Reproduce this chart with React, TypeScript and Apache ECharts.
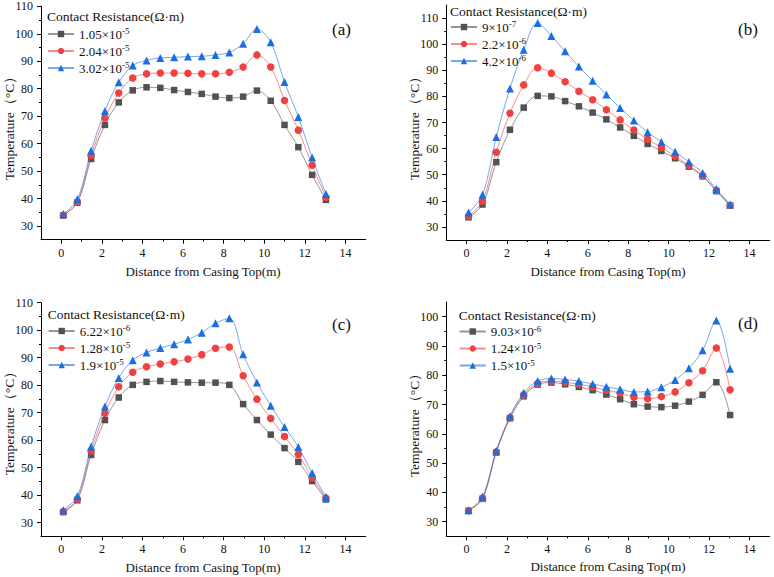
import React, { useEffect, useRef } from "react";
import * as echarts from "echarts";

// Distance from casing top (m)
const xPos = [0.1, 0.79, 1.47, 2.15, 2.83, 3.52, 4.2, 4.88, 5.56, 6.24, 6.92, 7.6, 8.28, 8.96, 9.64, 10.32, 11.0, 11.68, 12.36, 13.04];

// (a)
const aNames = ["1.05×10^-5", "2.04×10^-5", "3.02×10^-5"];
const aGray = [33.8, 38.5, 54.4, 66.8, 75.0, 79.4, 80.5, 80.3, 79.5, 78.8, 78.1, 77.1, 76.6, 77.1, 79.3, 75.6, 66.8, 58.7, 48.6, 39.5];
const aRed = [33.9, 38.7, 55.7, 69.3, 78.4, 83.9, 85.4, 85.7, 85.7, 85.6, 85.4, 85.4, 86.0, 87.9, 92.3, 87.9, 75.7, 64.9, 52.1, 40.4];
const aBlue = [34.4, 39.7, 57.4, 71.9, 82.3, 88.4, 90.3, 91.2, 91.4, 91.7, 91.8, 92.3, 93.2, 96.4, 101.7, 96.9, 82.4, 69.7, 54.9, 41.6];

// (b)
const bNames = ["9×10^-7", "2.2×10^-6", "4.2×10^-6"];
const bGray = [33.7, 38.6, 54.8, 67.2, 75.7, 80.2, 80.0, 78.2, 76.2, 73.8, 71.2, 68.1, 64.9, 61.8, 59.1, 56.3, 53.1, 49.4, 43.7, 38.2];
const bRed = [34.2, 39.9, 58.6, 73.5, 84.4, 91.0, 88.9, 85.6, 82.0, 78.7, 74.9, 71.0, 67.1, 63.6, 60.4, 57.1, 53.6, 49.6, 44.0, 38.3];
const bBlue = [35.5, 42.3, 64.4, 83.0, 97.9, 108.1, 103.1, 97.3, 91.4, 86.0, 80.7, 75.6, 70.8, 66.3, 62.5, 58.8, 54.9, 50.7, 44.5, 38.6];

// (c)
const cNames = ["6.22×10^-6", "1.28×10^-5", "1.9×10^-5"];
const cGray = [33.8, 38.1, 54.6, 67.3, 75.5, 80.1, 81.2, 81.5, 81.2, 81.0, 80.9, 80.9, 80.1, 73.1, 67.3, 62.0, 57.1, 52.1, 45.1, 38.4];
const cRed = [34.0, 38.6, 56.0, 69.8, 79.4, 84.7, 86.7, 87.7, 88.5, 89.5, 91.1, 93.4, 93.9, 83.4, 74.9, 67.9, 61.3, 54.8, 46.3, 38.9];
const cBlue = [34.5, 39.6, 57.7, 72.2, 82.6, 89.1, 91.9, 93.5, 94.9, 96.6, 99.1, 102.5, 104.3, 91.2, 81.0, 72.5, 64.8, 57.5, 48.0, 39.3];

// (d)
const dNames = ["9.03×10^-6", "1.24×10^-5", "1.5×10^-5"];
const dGray = [33.7, 37.8, 53.6, 65.3, 72.8, 76.8, 77.5, 76.9, 76.0, 74.9, 73.4, 71.8, 70.1, 69.3, 69.1, 69.6, 71.0, 73.3, 77.6, 66.4];
const dRed = [33.7, 38.0, 53.8, 65.5, 73.3, 77.2, 78.0, 77.6, 76.9, 76.0, 74.9, 73.9, 72.5, 72.0, 72.7, 74.3, 77.4, 81.5, 89.3, 75.0];
const dBlue = [33.9, 38.5, 54.2, 66.0, 74.0, 78.0, 78.9, 78.5, 78.0, 77.0, 76.1, 75.2, 74.3, 74.4, 75.9, 78.4, 82.4, 88.5, 98.7, 82.2];

// Tick labels
const xTicks = [0, 2, 4, 6, 8, 10, 12, 14];
const xMinorTicks = [1, 3, 5, 7, 9, 11, 13];
const yTicks110 = [30, 40, 50, 60, 70, 80, 90, 100, 110];
const yMinor110 = [35, 45, 55, 65, 75, 85, 95, 105];
const yTicks100 = [30, 40, 50, 60, 70, 80, 90, 100];
const yMinor100 = [35, 45, 55, 65, 75, 85, 95];

const panelLabels = ["(a)", "(b)", "(c)", "(d)"];
const legendTitle = "Contact Resistance(Ω·m)";
const xTitle = "Distance from Casing Top(m)";
const yTitle = "Temperature（°C）";

const FONT = "Liberation Serif";
const MARK = ["#515151", "#F14040", "#1A6FDF"];
const SYMBOLS = ["rect", "circle", "triangle"];
const SYMSIZE = [6.5, 7.5, 8];

export default function App() {
  const ref = useRef<HTMLDivElement>(null);

  useEffect(() => {
    if (!ref.current) return;
    const chart = echarts.init(ref.current, undefined, { renderer: "svg" });

    const panels = [
      { names: aNames, series: [aGray, aRed, aBlue], yMin: 25, yMax: 110, yT: yTicks110, yM: yMinor110,
        grid: { left: 41, top: 6.3, width: 324.7, height: 233.4 },
        legend: { left: 47, top: 26.5 }, lt: { x: 47, y: 17 }, pl: { x: 341.5, y: 29 },
        yt: { x: 9, y: 125 }, xt: { x: 203, y: 271.7 } },
      { names: bNames, series: [bGray, bRed, bBlue], yMin: 25, yMax: 115, yT: yTicks110, yM: yMinor110,
        grid: { left: 446.3, top: 5, width: 323.4, height: 235 },
        legend: { left: 450, top: 19.5 }, lt: { x: 450, y: 12.3 }, pl: { x: 748, y: 29 },
        yt: { x: 414, y: 125 }, xt: { x: 608, y: 271.7 } },
      { names: cNames, series: [cGray, cRed, cBlue], yMin: 25, yMax: 110, yT: yTicks110, yM: yMinor110,
        grid: { left: 41, top: 302.7, width: 324.7, height: 233.6 },
        legend: { left: 47.7, top: 323.5 }, lt: { x: 47.7, y: 314.7 }, pl: { x: 341.5, y: 324.7 },
        yt: { x: 9, y: 420 }, xt: { x: 203, y: 567.3 } },
      { names: dNames, series: [dGray, dRed, dBlue], yMin: 25, yMax: 105, yT: yTicks100, yM: yMinor100,
        grid: { left: 446.3, top: 302, width: 323.4, height: 234.3 },
        legend: { left: 458.7, top: 324 }, lt: { x: 458.7, y: 316.3 }, pl: { x: 748, y: 323.7 },
        yt: { x: 414, y: 422 }, xt: { x: 608, y: 566.3 } },
    ];

    const grids: any[] = [];
    const xAxes: any[] = [];
    const yAxes: any[] = [];
    const series: any[] = [];
    const legends: any[] = [];
    const graphics: any[] = [];

    panels.forEach((p, i) => {
      grids.push({ ...p.grid, containLabel: false });
      xAxes.push({
        type: "value", gridIndex: i, min: -1, max: 15, position: "bottom",
        axisLine: { show: true, onZero: false, lineStyle: { color: "#000", width: 1 } },
        axisTick: { show: true, length: 4, customValues: xTicks, lineStyle: { color: "#000", width: 1 } },
        axisLabel: { customValues: xTicks, fontSize: 12, fontFamily: FONT, color: "#111", margin: 7 },
        splitLine: { show: false },
      });
      xAxes.push({
        type: "value", gridIndex: i, min: -1, max: 15, position: "bottom", offset: 0,
        axisLine: { show: false, onZero: false },
        axisTick: { show: true, length: 2, customValues: xMinorTicks, lineStyle: { color: "#000", width: 1 } },
        axisLabel: { show: false },
        splitLine: { show: false },
      });
      yAxes.push({
        type: "value", gridIndex: i, min: p.yMin, max: p.yMax, position: "left",
        axisLine: { show: true, onZero: false, lineStyle: { color: "#000", width: 1 } },
        axisTick: { show: true, length: 4, customValues: p.yT, lineStyle: { color: "#000", width: 1 } },
        axisLabel: { customValues: p.yT, fontSize: 12, fontFamily: FONT, color: "#111", margin: 8 },
        splitLine: { show: false },
      });
      yAxes.push({
        type: "value", gridIndex: i, min: p.yMin, max: p.yMax, position: "left", offset: 0,
        axisLine: { show: false, onZero: false },
        axisTick: { show: true, length: 2, customValues: p.yM, lineStyle: { color: "#000", width: 1 } },
        axisLabel: { show: false },
        splitLine: { show: false },
      });
      p.series.forEach((vals, k) => {
        series.push({
          type: "line",
          name: p.names[k],
          xAxisIndex: i * 2,
          yAxisIndex: i * 2,
          data: xPos.map((x, j) => [x, vals[j]]),
          smooth: 0.35,
          symbol: SYMBOLS[k],
          symbolSize: SYMSIZE[k],
          showAllSymbol: true,
          lineStyle: { color: MARK[k], width: 1, opacity: 0.6 },
          itemStyle: { color: MARK[k] },
          z: 2 + k,
        });
      });
      legends.push({
        data: p.names,
        orient: "vertical",
        left: p.legend.left,
        top: p.legend.top,
        padding: 0,
        itemWidth: 26,
        itemHeight: 8,
        itemGap: 3,
        selectedMode: false,
        formatter: (name: string) => {
          const parts = name.split("^");
          return `{b|${parts[0]}}{s|${parts[1]}}`;
        },
        textStyle: {
          fontFamily: FONT,
          rich: {
            b: { fontSize: 13, fontFamily: FONT, color: "#111", lineHeight: 15 },
            s: { fontSize: 9, fontFamily: FONT, color: "#111", lineHeight: 9, verticalAlign: "top" },
          },
        },
      });
      graphics.push({
        type: "text", left: p.lt.x, top: p.lt.y - 7.5,
        style: { text: legendTitle, fontSize: 13.5, fontFamily: FONT, fill: "#111" },
      });
      graphics.push({
        type: "text", x: p.pl.x, y: p.pl.y,
        style: { text: panelLabels[i], fontSize: 17, fontFamily: FONT, fill: "#111", align: "center", verticalAlign: "middle" },
      });
      graphics.push({
        type: "text", x: p.yt.x, y: p.yt.y, rotation: Math.PI / 2,
        style: { text: yTitle, fontSize: 13.5, fontFamily: FONT, fill: "#111", align: "center", verticalAlign: "middle" },
      });
      graphics.push({
        type: "text", x: p.xt.x, y: p.xt.y,
        style: { text: xTitle, fontSize: 13, fontFamily: FONT, fill: "#111", align: "center", verticalAlign: "middle" },
      });
    });

    chart.setOption({
      animation: false,
      backgroundColor: "#fff",
      grid: grids,
      xAxis: xAxes,
      yAxis: yAxes,
      legend: legends,
      series,
      graphic: graphics,
    });

    return () => chart.dispose();
  }, []);

  return (
    <div
      ref={ref}
      style={{ position: "fixed", left: 0, top: 0, width: 774, height: 577, background: "#fff" }}
    />
  );
}
